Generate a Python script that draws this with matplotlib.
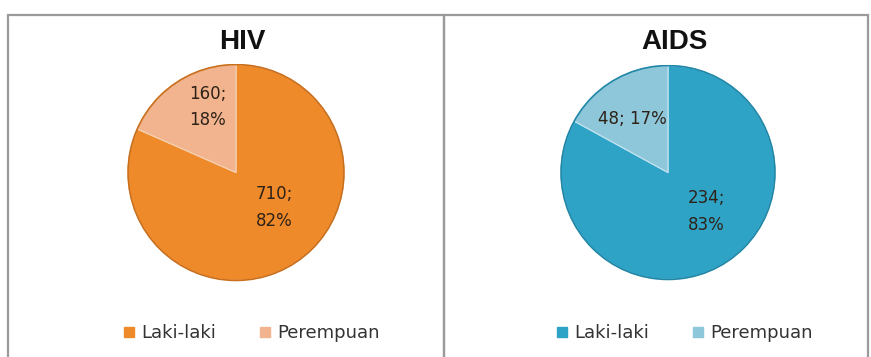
import numpy as np
import matplotlib
matplotlib.use("Agg")
import matplotlib.pyplot as plt
from matplotlib.patches import Rectangle, Circle
from matplotlib.lines import Line2D

categories = ['Laki-laki', 'Perempuan']
hiv_values = [710, 160]
hiv_pct = [82, 18]
aids_values = [234, 48]
aids_pct = [83, 17]

hiv_colors = ['#EE8A2A', '#F2B48E']
aids_colors = ['#2EA3C6', '#8EC6DA']

W, H = 871, 357
fig = plt.figure(figsize=(W / 100, H / 100), dpi=100)
fig.patch.set_facecolor('white')

# panel frames (pixel coords from top-left)
for x0, x1 in [(8, 444), (444, 868)]:
    fig.patches.append(Rectangle((x0 / W, -0.05), (x1 - x0) / W, 1 - 15 / H + 0.05,
                                 transform=fig.transFigure, fill=False,
                                 edgecolor='#9a9a9a', linewidth=1.6))


def draw_pie(cx, cy, r, values, pcts, colors, title, sep, lab_r, leg_x, sep_col, rim_col):
    ax = fig.add_axes([(cx - r) / W, 1 - (cy + r) / H, 2 * r / W, 2 * r / H])
    wedges, _ = ax.pie(values, colors=colors, startangle=90, counterclock=False,
                       wedgeprops=dict(edgecolor=sep_col, linewidth=0.9))
    ax.add_patch(Circle((0, 0), 1, fill=False, edgecolor=rim_col, linewidth=1.2))
    ax.set_xlim(-1.01, 1.01)
    ax.set_ylim(-1.01, 1.01)
    ax.set_aspect('equal')
    for i, w in enumerate(wedges):
        ang = np.deg2rad((w.theta1 + w.theta2) / 2)
        rr = lab_r[i]
        ax.text(rr[0] * np.cos(ang + rr[1]), rr[0] * np.sin(ang + rr[1]),
                f"{values[i]};{sep[i]}{pcts[i]}%", ha='center', va='center',
                fontsize=12, color='#2e2218', linespacing=1.6,
                family='DejaVu Sans')
    fig.text((cx + 6) / W, 1 - 42 / H, title, ha='center', va='center', fontsize=20,
             fontweight='bold', color='#111111', family='Liberation Sans')
    handles = [Line2D([], [], marker='s', linestyle='', markersize=7,
                      markerfacecolor=c, markeredgecolor=c) for c in colors]
    fig.legend(handles, categories, loc='center', bbox_to_anchor=(leg_x / W, 1 - 333 / H),
               ncol=2, frameon=False, fontsize=13, handletextpad=0.2,
               columnspacing=2.2, labelcolor='#333333', handlelength=1.0)


draw_pie(236, 172.5, 109, hiv_values, hiv_pct, hiv_colors, 'HIV', ['\n', '\n'],
         [(0.48, 0.25), (0.66, -0.17)], 250, '#f6cfae', '#c96f1c')
draw_pie(668, 172.5, 108, aids_values, aids_pct, aids_colors, 'AIDS', ['\n', ' '],
         [(0.51, 0.24), (0.6, 0.05)], 683, '#bfe2ee', '#1f86a6')

fig.savefig('out.png', dpi=100)
